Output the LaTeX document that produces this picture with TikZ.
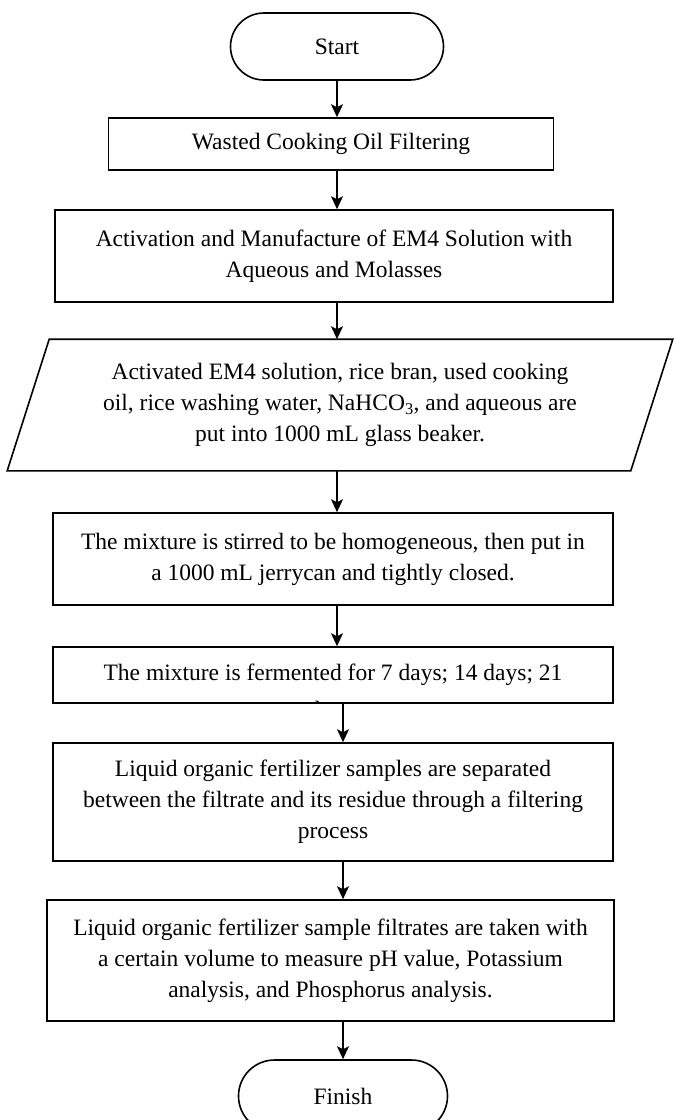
\documentclass[tikz,border=0pt]{standalone}
\usepackage{fontspec}
\setmainfont{Liberation Serif}
\usetikzlibrary{arrows.meta,positioning,shapes.misc}

\begin{document}
\begin{tikzpicture}[x=1pt,y=-1pt,line width=1.6pt,
    >={Stealth[length=13pt,width=12pt,inset=3pt]},
    every node/.style={font=\fontsize{23.5}{31}\selectfont,align=center,inner sep=0pt},
    terminal/.style={draw,rounded rectangle,minimum width=213pt,minimum height=67pt},
    process/.style={draw,rectangle,minimum width=560pt},
    io/.style={rectangle,minimum width=580pt,minimum height=130pt}]
    \useasboundingbox (0,0) rectangle (674,1120);
    \node[terminal] (start) at (337,46.5) {Start};
    \node[process,minimum width=445pt,minimum height=52pt] (filter) at (331,144) {Wasted Cooking Oil Filtering};
    \node[process,minimum width=558pt,minimum height=92pt] (em4) at (334,256) {Activation and Manufacture of EM4 Solution with\\Aqueous and Molasses};
    \node[io] (input) at (340,405) {Activated EM4 solution, rice bran, used cooking\\oil, rice washing water, NaHCO\textsubscript{3}, and aqueous are\\put into 1000 mL glass beaker.};
    \draw ([xshift=-42pt]input.south west) -- (input.north west) -- ([xshift=42pt]input.north east) -- (input.south east) -- cycle;
    \node[process,minimum height=92pt] (stir) at (333,559) {The mixture is stirred to be homogeneous, then put in\\a 1000 mL jerrycan and tightly closed.};
    \node[process,minimum height=56pt] (ferment) at (333,675) {The mixture is fermented for 7 days; 14 days; 21};
    \begin{scope}
        \clip (ferment.south west) rectangle (ferment.north east);
        \node[anchor=north] (fermtail) at ([yshift=3pt]ferment.south) {days.};
    \end{scope}
    \node[process,minimum height=118pt] (separate) at (333,802) {Liquid organic fertilizer samples are separated\\between the filtrate and its residue through a filtering\\process};
    \node[process,minimum width=567pt,minimum height=121pt] (analysis) at (330.5,960.5) {Liquid organic fertilizer sample filtrates are taken with\\a certain volume to measure pH value, Potassium\\analysis, and Phosphorus analysis.};
    \node[terminal,minimum width=209pt,minimum height=72pt] (finish) at (343,1096) {Finish};
    % arrows
    \draw [->] (start.south) -- (start.south |- filter.north);
    \draw [->] (start.south |- filter.south) -- (start.south |- em4.north);
    \draw [->] (start.south |- em4.south) -- (start.south |- input.north);
    \draw [->] (start.south |- input.south) -- (start.south |- stir.north);
    \draw [->] (start.south |- stir.south) -- (start.south |- ferment.north);
    \draw [->] (finish.north |- ferment.south) -- (finish.north |- separate.north);
    \draw [->] (finish.north |- separate.south) -- (finish.north |- analysis.north);
    \draw [->] (finish.north |- analysis.south) -- (finish.north);
\end{tikzpicture}
\end{document}
